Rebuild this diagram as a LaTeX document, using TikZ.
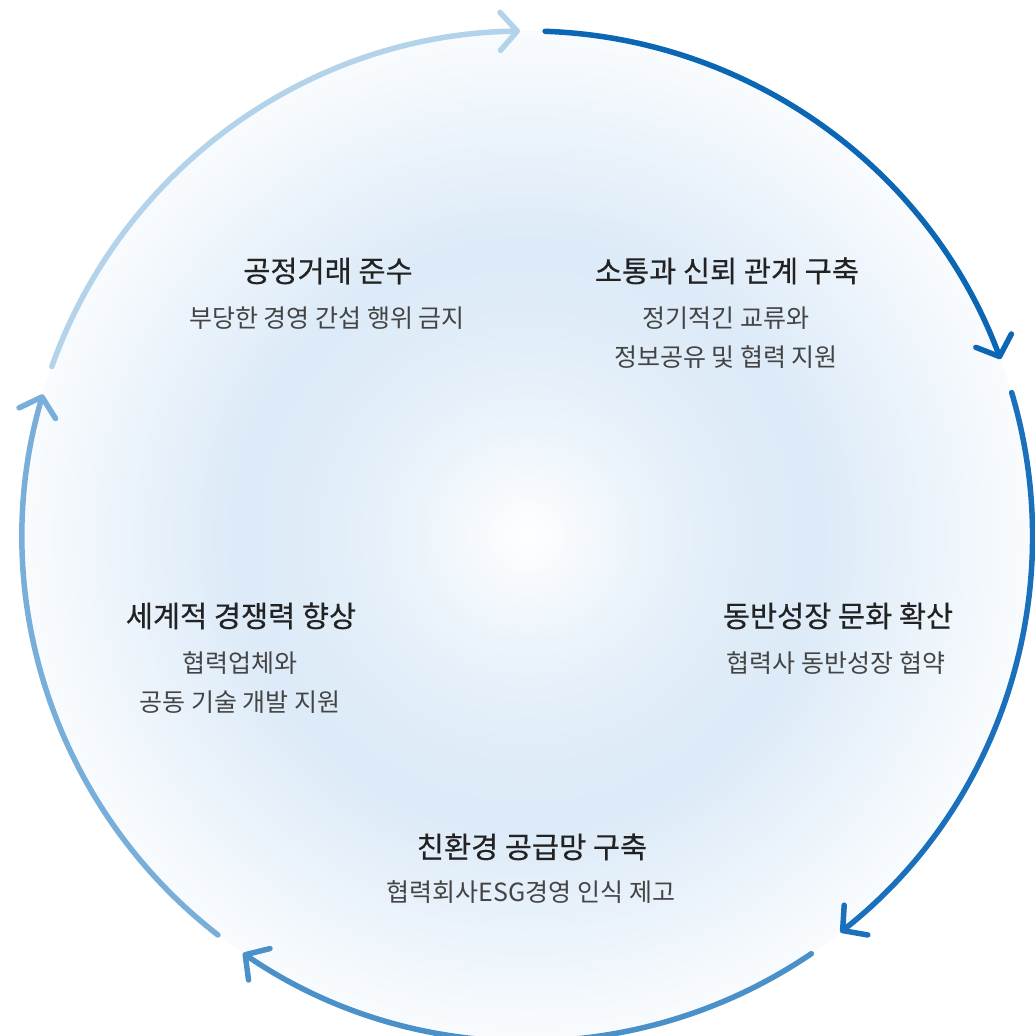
\documentclass[tikz,border=0pt]{standalone}
\usepackage{fontspec}
\usetikzlibrary{arrows.meta}
\newfontfamily\krfont{Noto Sans CJK KR}
\newfontfamily\krtitle[FakeBold=0.4]{Noto Sans CJK KR}
\definecolor{glow}{RGB}{221,235,248}
\definecolor{arcA}{HTML}{B3D3EA}
\definecolor{arcB}{HTML}{0B67B3}
\definecolor{arcC}{HTML}{1A70BA}
\definecolor{arcD}{HTML}{4B91C9}
\definecolor{arcE}{HTML}{78AFDA}
\definecolor{titlecol}{HTML}{222222}
\definecolor{subcol}{HTML}{444444}
\tikzset{
  ring/.style={line width=5.5pt, line cap=round, -{Straight Barb[length=17pt,width=38pt,round]}},
  ttl/.style={font=\krtitle\fontsize{29.5}{34}\selectfont, text=titlecol, anchor=base, inner sep=0pt},
  sub/.style={font=\krfont\fontsize{25}{30}\selectfont, text=subcol, anchor=base, inner sep=0pt}
}
\begin{document}
\begin{tikzpicture}[x=1pt,y=-1pt]
\fill[white] (0,0) rectangle (1034,1036);
\useasboundingbox (0,0) rectangle (1034,1036);
\coordinate (C) at (527.5,536);
% soft glow inside the ring
\foreach \r in {505,500,...,5}{
  \ifnum\r<300
    \pgfmathsetmacro\t{100*sin(0.3*\r)}
  \else
    \pgfmathsetmacro\t{100-0.40*(\r-300)}
  \fi
  \fill[glow!\t!white] (C) circle[radius=\r pt];
}
% ring arcs
\draw[ring, arcA] (C) ++(160.4:505pt) arc[start angle=160.4, end angle=90.85, radius=505pt];
\draw[ring, arcB] (C) ++(88:505pt) arc[start angle=88, end angle=20.5, radius=505pt];
\draw[ring, arcC] (C) ++(16.5:505pt) arc[start angle=16.5, end angle=-51.7, radius=505pt];
\draw[ring, arcD] (C) ++(-55.8:505pt) arc[start angle=-55.8, end angle=-124.3, radius=505pt];
\draw[ring, arcE] (C) ++(-127.8:505pt) arc[start angle=-127.8, end angle=-196.3, radius=505pt];
% texts
\node[ttl] (t1) at (328,282) {공정거래 준수};
\node[sub] (s1) at (327,327) {부당한 경영 간섭 행위 금지};
\node[ttl] (t2) at (727,282) {소통과 신뢰 관계 구축};
\node[sub] (s2a) at (726,327) {정기적긴 교류와};
\node[sub] (s2b) at (726,366) {정보공유 및 협력 지원};
\node[ttl] (t3) at (838,627) {동반성장 문화 확산};
\node[sub] (s3) at (836,672) {협력사 동반성장 협약};
\node[ttl] (t4) at (241,627) {세계적 경쟁력 향상};
\node[sub] (s4a) at (240,672) {협력업체와};
\node[sub] (s4b) at (240,711) {공동 기술 개발 지원};
\node[ttl] (t5) at (532,858) {친환경 공급망 구축};
\node[sub] (s5) at (531,901) {협력회사ESG경영 인식 제고};
\end{tikzpicture}
\end{document}
